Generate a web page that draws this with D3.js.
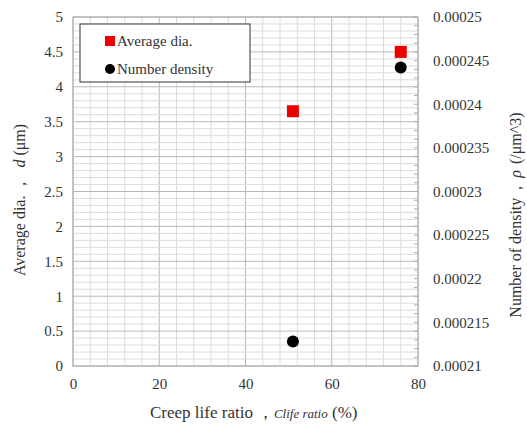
<!DOCTYPE html>
<html>
<head>
<meta charset="utf-8">
<script src="https://cdn.jsdelivr.net/npm/d3@7"></script>
<style>
  body { margin: 0; background: #fff; }
  text { font-family: "Liberation Serif", "Times New Roman", serif; fill: #333; }
</style>
</head>
<body>
<div id="chart"></div>
<script>
// data
var lifeRatio = [51, 76];
var avgDia = [3.65, 4.5];
var numDensity = [0.0002128, 0.0002442];
var leftTicks = [0, 0.5, 1, 1.5, 2, 2.5, 3, 3.5, 4, 4.5, 5];
var rightTicks = [0.00021, 0.000215, 0.00022, 0.000225, 0.00023, 0.000235, 0.00024, 0.000245, 0.00025];
var xTicks = [0, 20, 40, 60, 80];

var W = 527, H = 425;
var margin = { top: 17, right: 109, bottom: 59, left: 73 };
var width = W - margin.left - margin.right;
var height = H - margin.top - margin.bottom;

var svg = d3.select("#chart").append("svg")
    .attr("width", W).attr("height", H);
var g = svg.append("g")
    .attr("transform", "translate(" + margin.left + "," + margin.top + ")");

var x = d3.scaleLinear().domain([0, 80]).range([0, width]);
var yL = d3.scaleLinear().domain([0, 5]).range([height, 0]);
var yR = d3.scaleLinear().domain([0.00021, 0.00025]).range([height, 0]);

// grid: minor then major
g.append("g").selectAll("line").data(d3.range(0, 81, 4)).enter().append("line")
    .attr("x1", function(d) { return x(d); }).attr("x2", function(d) { return x(d); })
    .attr("y1", 0).attr("y2", height)
    .style("stroke", function(d) { return d % 20 === 0 ? "#b8b8b8" : "#dcdcdc"; })
    .style("stroke-width", 1);
g.append("g").selectAll("line").data(d3.range(0, 51, 1)).enter().append("line")
    .attr("x1", 0).attr("x2", width)
    .attr("y1", function(d) { return yL(d / 10); }).attr("y2", function(d) { return yL(d / 10); })
    .style("stroke", function(d) { return d % 5 === 0 ? "#b8b8b8" : "#dcdcdc"; })
    .style("stroke-width", 1);

// right axis small inward ticks
g.append("g").selectAll("line").data(d3.range(0, 41, 1)).enter().append("line")
    .attr("x1", width - 4).attr("x2", width)
    .attr("y1", function(d) { return yR(0.00021 + d * 0.000001); })
    .attr("y2", function(d) { return yR(0.00021 + d * 0.000001); })
    .style("stroke", "#aaa");

g.append("rect").attr("width", width).attr("height", height)
    .style("fill", "none").style("stroke", "#aaa");

// axes
var xAxis = d3.axisBottom(x).tickValues(xTicks).tickSize(0).tickPadding(12);
var yAxisL = d3.axisLeft(yL).tickValues(leftTicks).tickSize(0).tickPadding(10)
    .tickFormat(function(d) { return String(d); });
var yAxisR = d3.axisRight(yR).tickValues(rightTicks).tickSize(0).tickPadding(15)
    .tickFormat(function(d) { return String(+d.toPrecision(6)); });

g.append("g").attr("transform", "translate(0," + height + ")").call(xAxis);
g.append("g").call(yAxisL);
g.append("g").attr("transform", "translate(" + width + ",0)").call(yAxisR);
g.selectAll(".domain").remove();
g.selectAll(".tick text")
    .attr("font-family", "Liberation Serif")
    .style("font-family", "'Liberation Serif', serif")
    .style("font-size", "15px").attr("fill", "#333");

// points
g.append("g").selectAll("rect").data(lifeRatio).enter().append("rect")
    .attr("x", function(d) { return x(d) - 6; })
    .attr("y", function(d, i) { return yL(avgDia[i]) - 6; })
    .attr("width", 12).attr("height", 12)
    .style("fill", "#ee0000");
g.append("g").selectAll("circle").data(lifeRatio).enter().append("circle")
    .attr("cx", function(d) { return x(d); })
    .attr("cy", function(d, i) { return yR(numDensity[i]); })
    .attr("r", 6)
    .style("fill", "#000");

// legend
var legend = svg.append("g").attr("transform", "translate(80,24)");
legend.append("rect").attr("width", 170).attr("height", 58)
    .style("fill", "#fff").style("stroke", "#333").style("stroke-width", 1);
legend.append("rect").attr("x", 25).attr("y", 12).attr("width", 10).attr("height", 10)
    .style("fill", "#ee0000");
legend.append("text").attr("x", 37).attr("y", 22).style("font-size", "15px")
    .text("Average dia.");
legend.append("circle").attr("cx", 30).attr("cy", 45).attr("r", 5)
    .style("fill", "#000");
legend.append("text").attr("x", 37).attr("y", 50).style("font-size", "15px")
    .text("Number density");

// axis titles
var xt = svg.append("text")
    .attr("x", 150).attr("y", 418)
    .style("font-size", "17px");
xt.append("tspan").text("Creep life ratio");
xt.append("tspan").attr("dx", 4).text("\uFF0C");
xt.append("tspan").attr("dx", 0).style("font-style", "italic").style("font-size", "13px").text("Clife ratio");
xt.append("tspan").text(" (%)");

var lt = svg.append("text")
    .attr("transform", "translate(25,200) rotate(-90)")
    .attr("text-anchor", "middle").style("font-size", "16px");
lt.append("tspan").text("Average dia.");
lt.append("tspan").attr("dx", 4).text("\uFF0C");
lt.append("tspan").attr("dx", 8).style("font-style", "italic").text("d");
lt.append("tspan").attr("dx", 4).text("(\u03BCm)");

var rt = svg.append("text")
    .attr("transform", "translate(521,215) rotate(-90)")
    .attr("text-anchor", "middle").style("font-size", "16px");
rt.append("tspan").text("Number of density");
rt.append("tspan").attr("dx", 2).text("\uFF0C");
rt.append("tspan").attr("dx", 2).style("font-style", "italic").text("\u03C1");
rt.append("tspan").attr("dx", 6).text("(/\u03BCm^3)");
</script>
</body>
</html>
